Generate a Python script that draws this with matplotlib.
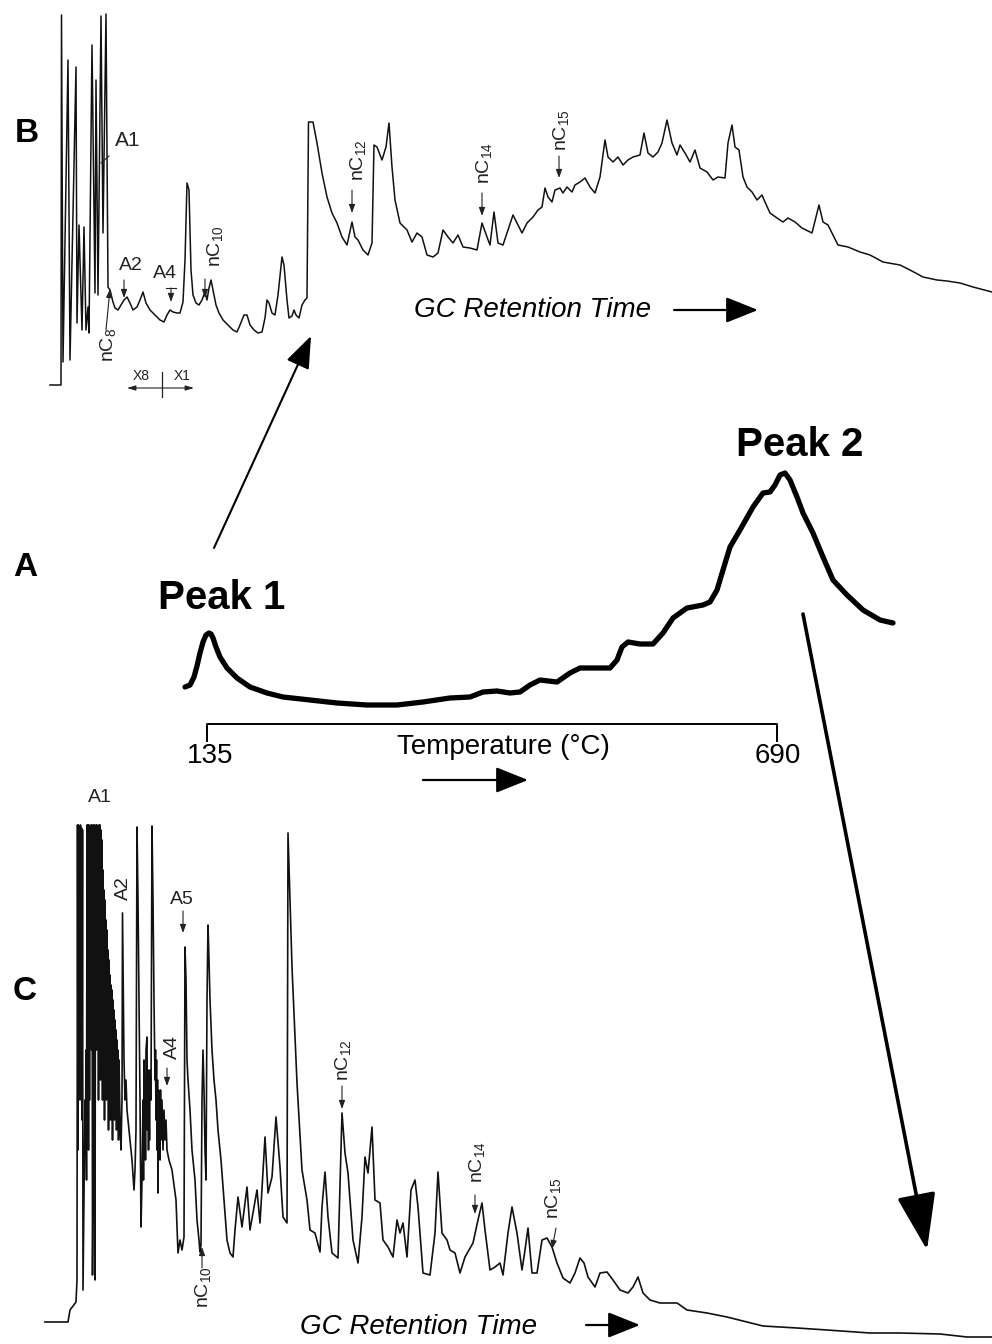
import matplotlib
matplotlib.use("Agg")
import matplotlib.pyplot as plt

plt.rcParams['font.family'] = ['Liberation Sans', 'DejaVu Sans']
plt.rcParams['mathtext.fontset'] = 'custom'
plt.rcParams['mathtext.rm'] = 'Liberation Sans'
plt.rcParams['mathtext.it'] = 'Liberation Sans'

# --- chromatogram B (peak 1 fraction, GC trace) : retention / detector signal (page units)
b_time = [50, 61, 61.5, 63, 68, 70, 76, 77, 79, 82, 84, 86, 88, 89, 92, 95, 96, 98, 101, 103,
          106, 108, 110, 113, 115, 118, 121, 124, 127, 130, 133, 137, 140, 143, 146, 150, 155,
          160, 164, 167, 170, 173, 177, 180, 183, 185, 187, 189, 191, 193, 196, 199, 202, 205,
          207, 209, 211, 213, 216, 219, 223, 228, 233, 237, 240, 244, 247, 250, 254, 258, 262,
          265, 267, 269, 272, 275, 278, 282, 284, 287, 289, 292, 294, 296, 299, 302, 305, 307,
          308.5, 313, 317, 322, 327, 332, 337, 342, 347, 352, 355, 358, 363, 368, 372, 374, 377,
          382, 386, 389, 392, 395, 400, 407, 412, 417, 422, 427, 433, 438, 443, 448, 453, 458,
          463, 470, 477, 482, 487, 490, 494, 498, 503, 508, 513, 517, 522, 527, 533, 538, 542,
          545, 548, 552, 555, 560, 563, 567, 572, 575, 580, 585, 590, 595, 600, 605, 608, 613,
          618, 623, 628, 633, 640, 644, 648, 653, 658, 662, 667, 672, 677, 680, 685, 690, 695,
          700, 707, 713, 718, 725, 728, 732, 735, 739, 743, 747, 752, 757, 762, 765, 770, 777,
          783, 788, 795, 802, 812, 816, 819, 823, 828, 833, 838, 848, 860, 870, 883, 900, 910,
          923, 937, 947, 960, 973, 992]
b_signal = [385, 385, 15, 362, 60, 360, 67, 323, 225, 330, 227, 330, 307, 333, 45, 293, 80, 295,
            16, 233, 14, 287, 290, 302, 308, 310, 305, 300, 297, 303, 310, 307, 300, 292, 303, 310,
            315, 320, 322, 315, 310, 312, 313, 313, 302, 260, 183, 190, 270, 295, 303, 305, 300,
            292, 300, 288, 280, 290, 305, 313, 320, 325, 330, 332, 325, 315, 315, 325, 330, 333,
            332, 318, 300, 303, 313, 315, 295, 257, 265, 300, 318, 316, 310, 315, 318, 305, 300,
            298, 122, 122, 143, 173, 197, 213, 223, 237, 245, 222, 237, 240, 250, 255, 243, 145,
            147, 160, 147, 123, 167, 200, 223, 230, 242, 233, 237, 255, 257, 253, 230, 237, 243,
            235, 247, 248, 250, 223, 237, 245, 212, 243, 245, 230, 215, 223, 233, 223, 217, 210,
            207, 188, 197, 202, 190, 188, 193, 187, 192, 185, 182, 178, 187, 193, 177, 140, 157,
            162, 157, 165, 160, 157, 155, 133, 153, 157, 152, 143, 120, 143, 155, 145, 153, 162,
            150, 168, 172, 180, 177, 178, 143, 125, 147, 150, 177, 187, 192, 200, 195, 202, 213,
            218, 222, 218, 222, 228, 233, 217, 205, 222, 225, 235, 245, 247, 252, 255, 262, 265,
            270, 277, 280, 281, 283, 287, 292]

# --- thermogram A (temperature programmed run)
a_temp = [185, 190, 194, 197, 200, 203, 206, 209, 211, 213, 216, 220, 227, 237, 250, 267, 283,
          310, 337, 367, 397, 423, 450, 470, 483, 497, 510, 520, 530, 540, 557, 570, 580, 600,
          610, 617, 622, 628, 640, 653, 663, 673, 687, 703, 710, 717, 723, 730, 740, 753, 763,
          770, 775, 780, 785, 790, 797, 803, 813, 823, 833, 847, 863, 880, 893]
a_signal = [687, 685, 677, 666, 653, 642, 635, 633, 634, 638, 647, 657, 668, 678, 687, 693, 697,
            700, 703, 705, 705, 702, 698, 697, 692, 691, 693, 692, 685, 680, 682, 673, 668, 668,
            668, 660, 647, 642, 644, 644, 633, 618, 608, 605, 602, 590, 570, 547, 530, 507, 493,
            492, 485, 475, 473, 480, 497, 513, 533, 557, 580, 595, 610, 620, 623]
temp_range = ["135", "690"]

# --- chromatogram C (peak 2 fraction, GC trace)
c_time = [45, 68, 70, 73, 76,
          77, 77.5, 78, 78.5, 79, 79.5, 80, 80.5, 81, 81.5, 82, 82.5, 83, 84, 85, 85.5, 86, 86.5,
          87, 87.5, 88, 88.5, 89, 89.5, 90, 90.5, 91, 91.5, 92, 92.5, 93, 93.5, 94, 94.5, 95,
          95.5, 96, 96.5, 97, 97.5, 98, 98.5, 99, 99.5, 100, 100.5, 101, 101.5, 102, 102.5, 103,
          103.5, 104, 104.5, 105, 105.5, 106, 106.5, 107, 107.5, 108, 108.5, 109, 109.5, 110,
          110.5, 111, 111.5, 112, 112.5, 113, 113.5, 114, 114.5, 115, 115.5, 116, 116.5, 117,
          117.5, 118, 118.5, 119, 120, 121, 122, 122.5, 123, 123.5, 124, 125, 126, 127, 128, 129,
          130, 131, 132, 133, 134, 135, 136, 137, 138, 139, 140, 141, 142, 143, 143.5, 144,
          144.5, 145, 145.5, 146, 147, 147.5, 148, 148.5, 149, 149.5, 150, 151, 152, 153, 154,
          155, 155.5, 156, 156.5, 157, 157.5, 158, 158.5, 159, 159.5, 160, 160.5, 161, 162, 163,
          164, 165, 166, 167, 169, 172, 174, 176, 178, 180, 182, 184, 185, 186, 187, 188, 190,
          192, 195, 197, 199, 200, 201, 202, 203, 204, 205, 206, 207, 208, 209, 210, 212, 214,
          216, 218, 221, 224, 227, 230, 233, 235,
          238, 242, 247, 250, 257, 260, 265, 268, 272, 276, 280, 283, 287, 288, 292, 297, 302,
          307, 310, 315, 320, 322, 325, 328, 332, 338, 342, 345, 348, 353, 358, 362, 365, 368,
          372, 375, 380, 383, 388, 393, 397, 400, 403, 407, 411, 415, 418, 423, 430, 435, 438,
          442, 447, 450, 455, 460, 465, 473, 478, 482, 485, 490, 495, 500, 503, 508, 512, 517,
          522, 525, 528, 532, 537, 542, 547, 552, 557, 563, 570, 575, 580, 584, 588, 595, 600,
          607, 613, 620, 628, 633, 638, 643, 650, 660, 668, 677, 687, 707, 727, 763, 797, 827,
          870, 900, 940, 967, 992]
c_signal = [1322, 1322, 1310, 1306, 1302,
            1280, 825, 1150, 825, 1060, 826, 1100, 825, 1000, 828, 1120, 830, 1290, 1200, 1100,
            1140, 1050, 1180,
            825, 1000, 825, 1150, 825, 1100, 826, 980, 825, 1050, 825, 1275, 1200, 825, 1080,
            825, 1280, 900, 825, 1050, 825, 1000, 826, 1100, 825, 1000, 825, 1080, 830, 1020,
            840, 1100, 870,
            1090, 890, 1120, 900, 1060, 920, 1100, 930, 1060, 950, 1130, 960, 1070, 975, 1120,
            985, 1080, 990, 1140, 1000, 1080, 1010, 1120, 1020, 1090, 1030, 1130, 1040, 1100,
            1050, 1140, 1060, 1120, 1150, 1100, 913, 960, 1000, 1060, 1100, 1080, 1110, 1120,
            1130, 1140, 1150, 1160, 1175, 1190, 1170, 1130, 827, 900, 1000, 1100, 1227, 1180,
            1100, 1180, 1060, 1150, 1080, 1160, 1050, 1037, 1130, 1070, 1150, 1080, 1140, 1070,
            1100, 826, 900, 1000, 1080, 1050, 1120, 1060, 1150, 1080, 1193, 1090, 1150, 1100,
            1160, 1090, 1140, 1100, 1150, 1110, 1140, 1120, 1150, 1160, 1170, 1185, 1200, 1253,
            1240, 1250, 1237, 947, 980, 1060, 1080, 1110, 1150, 1180, 1220, 1240, 1252, 1245,
            1100, 1050, 1090, 1150, 1180, 1000, 925, 960, 1000, 1050, 1080, 1100, 1130, 1160,
            1200, 1240, 1253, 1257, 1230,
            1197, 1227, 1187, 1230, 1190, 1223,
            1137, 1193, 1177, 1117, 1167, 1217, 1223, 833, 967, 1083, 1170, 1200, 1230, 1233,
            1252, 1207, 1172, 1217, 1253, 1258, 1113, 1153, 1173, 1240, 1263, 1217, 1157, 1173,
            1127, 1200, 1203, 1240, 1247, 1257, 1220, 1233, 1223, 1257, 1190, 1180, 1207, 1273,
            1275, 1233, 1172, 1233, 1240, 1250, 1253, 1273, 1257, 1243, 1220, 1203, 1230, 1270,
            1267, 1263, 1275, 1233, 1207, 1233, 1270, 1250, 1228, 1273, 1273, 1240, 1238, 1247,
            1263, 1278, 1283, 1273, 1258, 1263, 1277, 1287, 1273, 1272, 1280, 1290, 1293, 1287,
            1277, 1293, 1300, 1303, 1303, 1303, 1310, 1313, 1317, 1326, 1328, 1330, 1333, 1333,
            1334, 1337, 1337]

# compound markers: (label, text x, text y, rotated, arrow from, arrow to)
b_marks = [
    (r"nC$_8$", 108, 345, True, (106, 330), (110, 289)),
    ("A2", 131, 265, False, (124, 280), (124, 298)),
    ("A4", 165, 274, False, (171, 288), (171, 302)),
    (r"nC$_{10}$", 215, 246, True, (205, 279), (205, 298)),
    (r"nC$_{12}$", 358, 160, True, (352, 190), (352, 213)),
    (r"nC$_{14}$", 484, 163, True, (482, 193), (482, 216)),
    (r"nC$_{15}$", 561, 130, True, (559, 156), (559, 178)),
]
c_marks = [
    ("A2", 123, 888, True, None, None),
    ("A5", 182, 900, False, (183, 911), (183, 933)),
    ("A4", 172, 1047, True, (167, 1068), (167, 1086)),
    (r"nC$_{10}$", 203, 1287, True, (202, 1268), (202, 1247)),
    (r"nC$_{12}$", 343, 1060, True, (342, 1086), (342, 1109)),
    (r"nC$_{14}$", 477, 1162, True, (475, 1195), (475, 1214)),
    (r"nC$_{15}$", 553, 1198, True, (556, 1228), (552, 1249)),
]

fig = plt.figure(figsize=(9.92, 13.44), dpi=100)
ax = fig.add_axes([0, 0, 1, 1])
ax.set_xlim(0, 992)
ax.set_ylim(1344, 0)
ax.axis('off')

ax.plot(b_time, b_signal, color='#111111', lw=1.1, solid_joinstyle='round')
ax.plot(a_temp, a_signal, color='black', lw=3.8, solid_capstyle='round', solid_joinstyle='round')
ax.plot(c_time, c_signal, color='#111111', lw=1.2, solid_joinstyle='round')


def small_arrow(p0, p1):
    ax.annotate('', xy=p1, xytext=p0,
                arrowprops=dict(arrowstyle='-|>,head_length=0.5,head_width=0.18', lw=0.8,
                                color='#222222', shrinkA=0, shrinkB=0))


for marks in (b_marks, c_marks):
    for lab, tx, ty, rot, p0, p1 in marks:
        ax.text(tx, ty, lab, fontsize=14, rotation=90 if rot else 0,
                ha='center', va='center', color='#222222')
        if p0 is not None:
            small_arrow(p0, p1)

# A1 labels
ax.text(128, 141, "A1", fontsize=15, ha='center', va='center', color='#222222')
ax.plot([101, 109], [163, 156], color='#222222', lw=0.8)
ax.text(100, 797, "A1", fontsize=14, ha='center', va='center', color='#222222')
# T bar above A4 arrow in B
ax.plot([166, 176], [288, 288], color='#222222', lw=0.8)

# attenuation change marker
ax.text(141, 376, "X8", fontsize=10, ha='center', va='center', color='#222222')
ax.text(182, 376, "X1", fontsize=10, ha='center', va='center', color='#222222')
ax.annotate('', xy=(127, 388), xytext=(194, 388),
            arrowprops=dict(arrowstyle='<|-|>,head_length=0.5,head_width=0.15', lw=0.8,
                            color='#222222', shrinkA=0, shrinkB=0))
ax.plot([162, 162], [372, 397], color='#222222', lw=0.9)

# panel letters
for letter, lx, ly in [("B", 27, 134), ("A", 25, 568), ("C", 25, 991)]:
    ax.text(lx, ly, letter, fontsize=24, fontweight='bold', ha='center', va='center')

ax.text(222, 598, "Peak 1", fontsize=29, fontweight='bold', ha='center', va='center')
ax.text(800, 445, "Peak 2", fontsize=29, fontweight='bold', ha='center', va='center')

# temperature scale of A
ax.plot([207, 207, 777, 777], [741, 724, 724, 741], color='black', lw=1.4)
ax.text(210, 756, temp_range[0], fontsize=20, ha='center', va='center')
ax.text(778, 756, temp_range[1], fontsize=20, ha='center', va='center')
ax.text(503, 747, "Temperature (°C)", fontsize=20, ha='center', va='center')

long_head = dict(arrowstyle='-|>,head_length=1.0,head_width=0.4', lw=1.6,
                 color='black', shrinkA=0, shrinkB=0, mutation_scale=20)
ax.annotate('', xy=(528, 780), xytext=(423, 780), arrowprops=long_head)

# retention time axes
ax.text(533, 310, "GC Retention Time", fontsize=20, style='italic', ha='center', va='center')
ax.annotate('', xy=(758, 310), xytext=(674, 310), arrowprops=long_head)
ax.text(418, 1327, "GC Retention Time", fontsize=20, style='italic', ha='center', va='center')
ax.annotate('', xy=(640, 1325), xytext=(586, 1325), arrowprops=long_head)

# fraction arrows linking the thermogram peaks to their chromatograms
ax.annotate('', xy=(311, 336), xytext=(214, 548),
            arrowprops=dict(arrowstyle='-|>,head_length=1.0,head_width=0.38', lw=1.5,
                            color='black', shrinkA=0, shrinkB=0, mutation_scale=20))
ax.annotate('', xy=(927, 1250), xytext=(803, 614),
            arrowprops=dict(arrowstyle='-|>,head_length=1.6,head_width=0.55', lw=2.6,
                            color='black', shrinkA=0, shrinkB=0, mutation_scale=22))

fig.savefig('out.png', dpi=100, facecolor='white')
